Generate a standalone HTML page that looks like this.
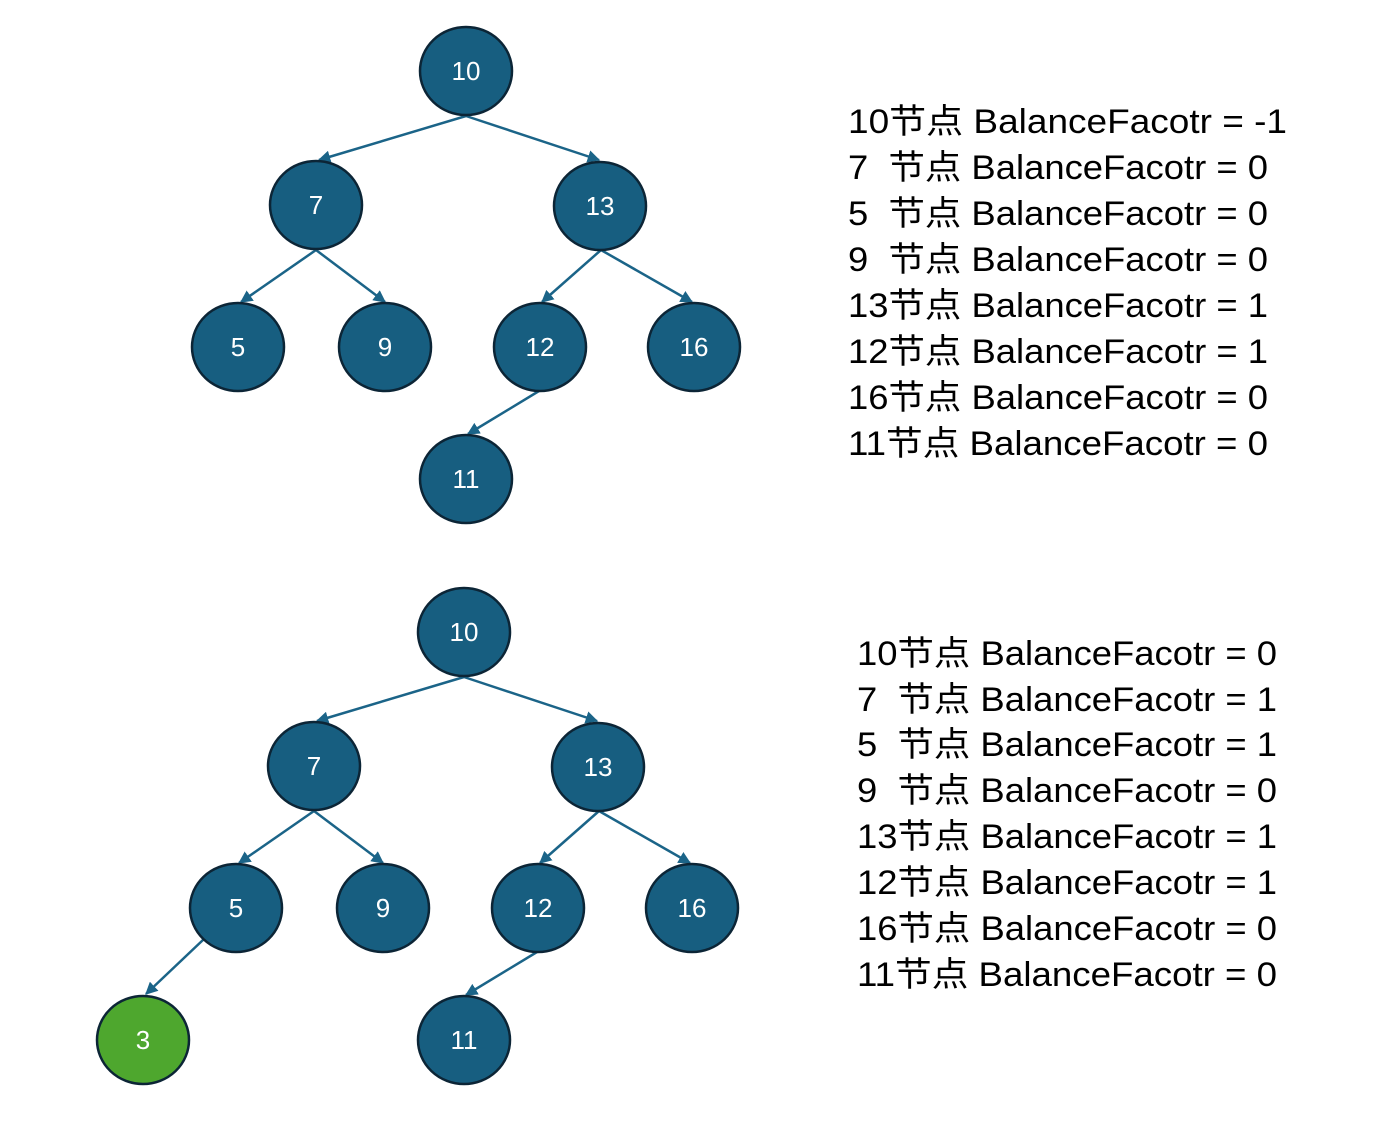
<!DOCTYPE html>
<html><head><meta charset="utf-8"><style>
html,body{margin:0;padding:0;background:#fff;}
svg{display:block;}
.n{fill:#175e80;stroke:#0c2536;stroke-width:2.5;}
.g{fill:#4ea72e;stroke:#0c2536;stroke-width:2.5;}
.l{font-family:"Liberation Sans",sans-serif;font-size:26px;fill:#fff;text-anchor:middle;dominant-baseline:central;}
.e{stroke:#1b6488;stroke-width:2.5;fill:none;marker-end:url(#a);}
.t{font-family:"Liberation Sans","Noto Sans CJK SC",sans-serif;font-size:34px;fill:#000;white-space:pre;}
</style></head><body>
<svg width="1378" height="1121" viewBox="0 0 1378 1121" xmlns="http://www.w3.org/2000/svg">
<defs><marker id="a" viewBox="0 0 10 10" refX="9" refY="5" markerWidth="5" markerHeight="5" orient="auto"><path d="M0,0 L10,5 L0,10 z" fill="#1b6488"/></marker></defs>
<g id="top">
<line class="e" x1="466" y1="116" x2="319" y2="160"/>
<line class="e" x1="466" y1="116" x2="599" y2="160"/>
<line class="e" x1="316" y1="250" x2="241" y2="302"/>
<line class="e" x1="316" y1="250" x2="385" y2="302"/>
<line class="e" x1="601" y1="250" x2="542" y2="302"/>
<line class="e" x1="601" y1="250" x2="692" y2="302"/>
<line class="e" x1="539" y1="391" x2="468" y2="434"/>
<ellipse class="n" cx="466" cy="71" rx="46" ry="44"/><text class="l" x="466" y="71">10</text>
<ellipse class="n" cx="316" cy="205" rx="46" ry="44"/><text class="l" x="316" y="205">7</text>
<ellipse class="n" cx="600" cy="206" rx="46" ry="44"/><text class="l" x="600" y="206">13</text>
<ellipse class="n" cx="238" cy="347" rx="46" ry="44"/><text class="l" x="238" y="347">5</text>
<ellipse class="n" cx="385" cy="347" rx="46" ry="44"/><text class="l" x="385" y="347">9</text>
<ellipse class="n" cx="540" cy="347" rx="46" ry="44"/><text class="l" x="540" y="347">12</text>
<ellipse class="n" cx="694" cy="347" rx="46" ry="44"/><text class="l" x="694" y="347">16</text>
<ellipse class="n" cx="466" cy="479" rx="46" ry="44"/><text class="l" x="466" y="479">11</text>
</g>
<g transform="translate(-2,561)">
<line class="e" x1="466" y1="116" x2="319" y2="160"/>
<line class="e" x1="466" y1="116" x2="599" y2="160"/>
<line class="e" x1="316" y1="250" x2="241" y2="302"/>
<line class="e" x1="316" y1="250" x2="385" y2="302"/>
<line class="e" x1="601" y1="250" x2="542" y2="302"/>
<line class="e" x1="601" y1="250" x2="692" y2="302"/>
<line class="e" x1="539" y1="391" x2="468" y2="434"/>
<line class="e" x1="206" y1="378" x2="148" y2="433"/>
<ellipse class="n" cx="466" cy="71" rx="46" ry="44"/><text class="l" x="466" y="71">10</text>
<ellipse class="n" cx="316" cy="205" rx="46" ry="44"/><text class="l" x="316" y="205">7</text>
<ellipse class="n" cx="600" cy="206" rx="46" ry="44"/><text class="l" x="600" y="206">13</text>
<ellipse class="n" cx="238" cy="347" rx="46" ry="44"/><text class="l" x="238" y="347">5</text>
<ellipse class="n" cx="385" cy="347" rx="46" ry="44"/><text class="l" x="385" y="347">9</text>
<ellipse class="n" cx="540" cy="347" rx="46" ry="44"/><text class="l" x="540" y="347">12</text>
<ellipse class="n" cx="694" cy="347" rx="46" ry="44"/><text class="l" x="694" y="347">16</text>
<ellipse class="n" cx="466" cy="479" rx="46" ry="44"/><text class="l" x="466" y="479">11</text>
<ellipse class="g" cx="145" cy="479" rx="46" ry="44"/><text class="l" x="145" y="479">3</text>
</g>
<g class="t">
<text class="t" x="848" y="133" textLength="439" lengthAdjust="spacingAndGlyphs">10节点 BalanceFacotr = -1</text>
<text class="t" x="848" y="179" textLength="420" lengthAdjust="spacingAndGlyphs">7  节点 BalanceFacotr = 0</text>
<text class="t" x="848" y="225" textLength="420" lengthAdjust="spacingAndGlyphs">5  节点 BalanceFacotr = 0</text>
<text class="t" x="848" y="271" textLength="420" lengthAdjust="spacingAndGlyphs">9  节点 BalanceFacotr = 0</text>
<text class="t" x="848" y="317" textLength="420" lengthAdjust="spacingAndGlyphs">13节点 BalanceFacotr = 1</text>
<text class="t" x="848" y="363" textLength="420" lengthAdjust="spacingAndGlyphs">12节点 BalanceFacotr = 1</text>
<text class="t" x="848" y="409" textLength="420" lengthAdjust="spacingAndGlyphs">16节点 BalanceFacotr = 0</text>
<text class="t" x="848" y="455" textLength="420" lengthAdjust="spacingAndGlyphs">11节点 BalanceFacotr = 0</text>
<text class="t" x="857" y="665" textLength="420" lengthAdjust="spacingAndGlyphs">10节点 BalanceFacotr = 0</text>
<text class="t" x="857" y="711" textLength="420" lengthAdjust="spacingAndGlyphs">7  节点 BalanceFacotr = 1</text>
<text class="t" x="857" y="756" textLength="420" lengthAdjust="spacingAndGlyphs">5  节点 BalanceFacotr = 1</text>
<text class="t" x="857" y="802" textLength="420" lengthAdjust="spacingAndGlyphs">9  节点 BalanceFacotr = 0</text>
<text class="t" x="857" y="848" textLength="420" lengthAdjust="spacingAndGlyphs">13节点 BalanceFacotr = 1</text>
<text class="t" x="857" y="894" textLength="420" lengthAdjust="spacingAndGlyphs">12节点 BalanceFacotr = 1</text>
<text class="t" x="857" y="940" textLength="420" lengthAdjust="spacingAndGlyphs">16节点 BalanceFacotr = 0</text>
<text class="t" x="857" y="986" textLength="420" lengthAdjust="spacingAndGlyphs">11节点 BalanceFacotr = 0</text>
</g>
</svg>
</body></html>
